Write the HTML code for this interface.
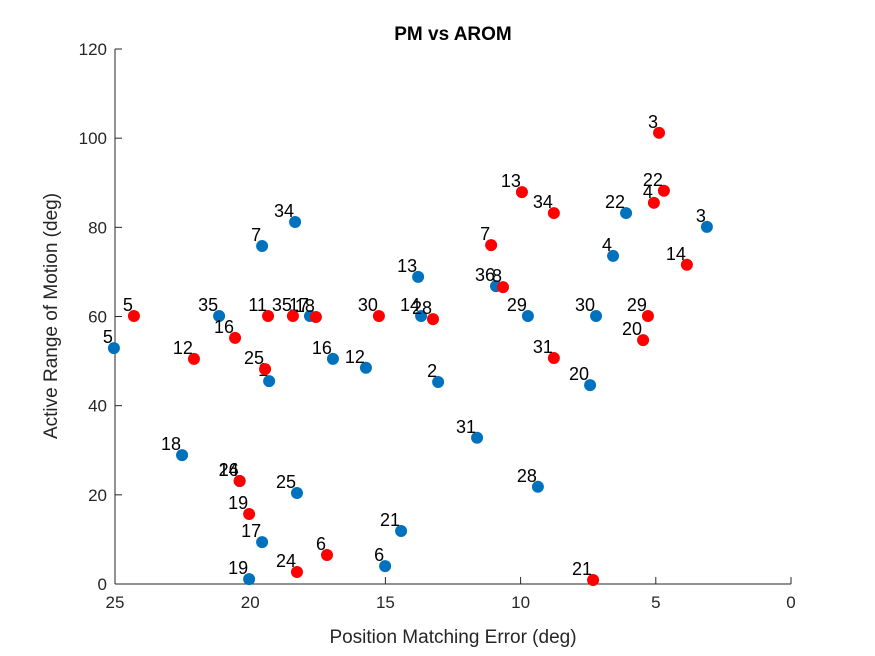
<!DOCTYPE html>
<html><head><meta charset="utf-8"><style>body{margin:0;background:#fff}svg{display:block;font-family:"Liberation Sans",Arial,sans-serif}</style></head>
<body>
<svg id="chart" width="875" height="656">
<rect width="875" height="656" fill="#fff"/>
<text x="453" y="40" text-anchor="middle" font-weight="bold" font-size="19" fill="#000">PM vs AROM</text>
<g id="axes"></g>
<g id="marks"></g>
<text x="453" y="643" text-anchor="middle" font-size="19" fill="#262626">Position Matching Error (deg)</text>
<text transform="translate(57,316) rotate(-90)" text-anchor="middle" font-size="19" fill="#262626">Active Range of Motion (deg)</text>
</svg>
<script>
const blueLabels=["3","22","4","30","20","29","36","13","14","2","12","16","17","34","7","35","1","5","18","25","17","19","21","6","31","28","14"];
const blueX=[3.11,6.10,6.58,7.21,7.43,9.73,10.91,13.79,13.68,13.05,15.72,16.94,17.79,18.34,19.56,21.15,19.30,25.04,22.52,18.27,19.56,20.04,14.42,15.01,11.61,9.36,20.39];
const blueY=[80.1,83.2,73.6,60.1,44.6,60.1,66.8,68.9,60.1,45.3,48.5,50.5,60.1,81.2,75.8,60.1,45.5,52.9,28.9,20.4,9.4,1.1,11.9,4.0,32.8,21.8,23.1];
const redLabels=["3","13","34","22","4","14","7","8","29","20","31","21","5","12","16","25","11","35","18","30","28","26","19","6","24"];
const redX=[4.88,9.95,8.77,4.70,5.07,3.85,11.09,10.65,5.29,5.47,8.77,7.32,24.30,22.08,20.56,19.45,19.34,18.42,17.57,15.24,13.24,20.39,20.04,17.16,18.27];
const redY=[101.2,87.9,83.2,88.2,85.5,71.6,76.0,66.6,60.1,54.7,50.7,0.9,60.1,50.5,55.2,48.2,60.1,60.1,59.9,60.1,59.4,23.1,15.7,6.5,2.7];
const xTicks=[25,20,15,10,5,0];
const yTicks=[0,20,40,60,80,100,120];
const X0=115,X1=791,Y0=584,Y1=49;
const sx=v=>X0+(25-v)/25*(X1-X0);
const sy=v=>Y0-v/120*(Y0-Y1);
const NS="http://www.w3.org/2000/svg";
const ax=document.getElementById('axes'),mk=document.getElementById('marks');
function el(t,a,p){const e=document.createElementNS(NS,t);for(const k in a)e.setAttribute(k,a[k]);p.appendChild(e);return e;}
el('line',{x1:X0,y1:Y0,x2:X1,y2:Y0,stroke:'#262626','stroke-width':1},ax);
el('line',{x1:X0,y1:Y0,x2:X0,y2:Y1,stroke:'#262626','stroke-width':1},ax);
xTicks.forEach(v=>{const x=sx(v);
el('line',{x1:x,y1:Y0,x2:x,y2:Y0-7,stroke:'#262626'},ax);
const t=el('text',{x:x,y:Y0+24,'text-anchor':'middle','font-size':17,fill:'#262626'},ax);t.textContent=v;

});
yTicks.forEach(v=>{const y=sy(v);
el('line',{x1:X0,y1:y,x2:X0+7,y2:y,stroke:'#262626'},ax);
const t=el('text',{x:X0-8,y:y+6,'text-anchor':'end','font-size':17,fill:'#262626'},ax);t.textContent=v;

});
function series(xs,ys,ls,col,name){
xs.forEach((v,i)=>{const cx=sx(v),cy=sy(ys[i]);
const c=el('circle',{cx:cx,cy:cy,r:6,fill:col},mk);


const t=el('text',{x:cx-1,y:cy-5,'text-anchor':'end','font-size':18,fill:'#000'},mk);t.textContent=ls[i];

});}
series(blueX,blueY,blueLabels,'#0072BD','blue-series');
series(redX,redY,redLabels,'#FF0000','red-series');
</script>
</body></html>
